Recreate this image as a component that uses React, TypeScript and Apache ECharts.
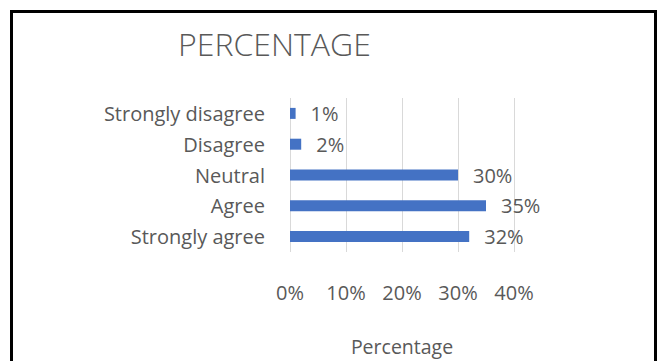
import React, { useEffect, useRef } from "react";
import * as echarts from "echarts";

const categories = ["Strongly disagree", "Disagree", "Neutral", "Agree", "Strongly agree"];
const values = [1, 2, 30, 35, 32];
const xTicks = [0, 10, 20, 30, 40];
const titleText = "PERCENTAGE";
const axisName = "Percentage";

export default function App() {
  const ref = useRef<HTMLDivElement>(null);
  useEffect(() => {
    if (!ref.current) return;
    const chart = echarts.init(ref.current, null, { renderer: "svg" });
    const font = "'Open Sans', 'Noto Sans', sans-serif";
    chart.setOption({
      animation: false,
      backgroundColor: "#ffffff",
      textStyle: { fontFamily: font },
      title: {
        text: titleText,
        left: 173,
        top: 22,
        textStyle: { fontSize: 32, fontWeight: 300, color: "#595959", fontFamily: font },
      },
      grid: { left: 290, right: 147, top: 98, bottom: 109, containLabel: false },
      xAxis: {
        type: "value",
        min: xTicks[0],
        max: xTicks[xTicks.length - 1],
        interval: 10,
        axisLine: { show: false },
        axisTick: { show: false },
        splitLine: { show: true, lineStyle: { color: "#d9d9d9", width: 1 } },
        axisLabel: { formatter: "{value}%", color: "#595959", fontSize: 20, margin: 30, fontFamily: font },
        name: axisName,
        nameLocation: "middle",
        nameGap: 84,
        nameTextStyle: { fontSize: 19.5, color: "#595959", fontFamily: font },
      },
      yAxis: {
        type: "category",
        data: categories,
        inverse: true,
        axisLine: { show: false },
        axisTick: { show: false },
        axisLabel: { color: "#595959", fontSize: 20, margin: 25, fontFamily: font },
      },
      series: [
        {
          type: "bar",
          data: values,
          barWidth: 11,
          itemStyle: { color: "#4472C4" },
          label: {
            show: true,
            position: "right",
            distance: 15,
            formatter: "{c}%",
            color: "#595959",
            fontSize: 20,
            fontFamily: font,
          },
        },
      ],
      graphic: [
        {
          type: "rect",
          shape: { x: 11.5, y: 11.5, width: 644, height: 360 },
          style: { fill: "none", stroke: "#000000", lineWidth: 3 },
          silent: true,
        },
      ],
    });
    return () => chart.dispose();
  }, []);
  return (
    <div
      ref={ref}
      style={{ position: "fixed", left: 0, top: 0, width: 661, height: 361 }}
    />
  );
}
